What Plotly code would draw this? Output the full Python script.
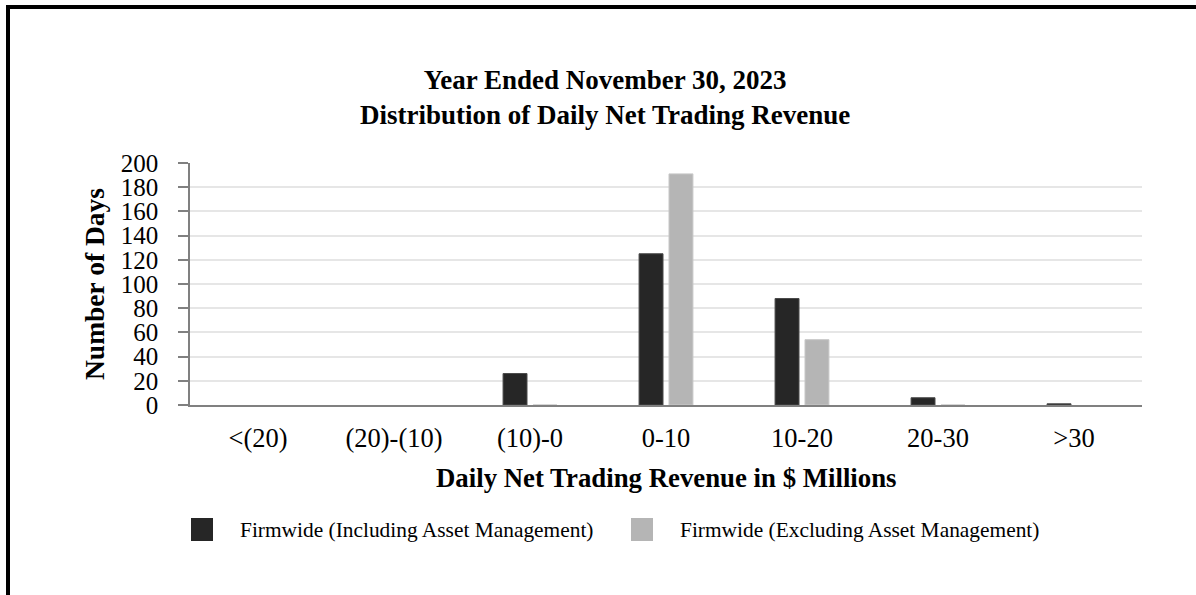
import plotly.graph_objects as go

categories = ["<(20)", "(20)-(10)", "(10)-0", "0-10", "10-20", "20-30", ">30"]
incl_am = [None, None, 26, 125, 88, 6, 1]
excl_am = [None, None, 0, 191, 54, 0, None]
series_names = ["Firmwide (Including Asset Management)", "Firmwide (Excluding Asset Management)"]
y_ticks = [0, 20, 40, 60, 80, 100, 120, 140, 160, 180, 200]

DARK = "#262626"
LIGHT = "#b5b5b5"
FONT = "Liberation Serif"

W, H = 1196, 595
L, R, T, B = 190, 54, 163, 190
pw, ph = W - L - R, H - T - B


def px(x):
    return (x - L) / pw


def py(y):
    return (H - B - y) / ph


fig = go.Figure()
fig.add_trace(go.Bar(x=categories, y=incl_am, name=series_names[0],
                     marker=dict(color=DARK, line=dict(color="#4a4a4a", width=1)),
                     showlegend=False))
fig.add_trace(go.Bar(x=categories, y=excl_am, name=series_names[1],
                     marker=dict(color=LIGHT, line=dict(color="#c8c8c8", width=1)),
                     showlegend=False))

shapes = [
    # outer frame
    dict(type="rect", xref="paper", yref="paper", x0=px(8), x1=px(1300), y0=py(700), y1=py(7),
         line=dict(color="black", width=4), fillcolor="rgba(0,0,0,0)", layer="above"),
    # legend swatches
    dict(type="rect", xref="paper", yref="paper", x0=px(191), x1=px(213), y0=py(541), y1=py(518),
         line=dict(width=0), fillcolor=DARK),
    dict(type="rect", xref="paper", yref="paper", x0=px(631), x1=px(653), y0=py(541), y1=py(518),
         line=dict(width=0), fillcolor=LIGHT),
]

annotations = [
    dict(text="<b>Year Ended November 30, 2023<br>Distribution of Daily Net Trading Revenue</b>",
         xref="paper", yref="paper", x=px(605), y=py(97), xanchor="center", yanchor="middle",
         showarrow=False, font=dict(family=FONT, size=27, color="black")),
    dict(text="<b>Number of Days</b>", xref="paper", yref="paper", x=px(94), y=py(284),
         textangle=-90, xanchor="center", yanchor="middle", showarrow=False,
         font=dict(family=FONT, size=27.5, color="black")),
    dict(text="<b>Daily Net Trading Revenue in $ Millions</b>", xref="paper", yref="paper",
         x=px(666), y=py(478), xanchor="center", yanchor="middle", showarrow=False,
         font=dict(family=FONT, size=26.8, color="black")),
    dict(text=series_names[0], xref="paper", yref="paper", x=px(238), y=py(530),
         xanchor="left", yanchor="middle", showarrow=False,
         font=dict(family=FONT, size=21.4, color="black")),
    dict(text=series_names[1], xref="paper", yref="paper", x=px(678), y=py(530),
         xanchor="left", yanchor="middle", showarrow=False,
         font=dict(family=FONT, size=21.4, color="black")),
]

fig.update_layout(
    width=W, height=H,
    margin=dict(l=L, r=R, t=T, b=B, pad=0),
    paper_bgcolor="white", plot_bgcolor="white",
    barmode="group", bargap=0.56, bargroupgap=0.2,
    font=dict(family=FONT, color="black"),
    shapes=shapes, annotations=annotations,
)
fig.update_xaxes(
    showgrid=False, showline=True, linecolor="#808080", linewidth=2,
    ticks="", tickfont=dict(family=FONT, size=26.5, color="black"),
    ticklabelstandoff=8, fixedrange=True,
)
fig.update_yaxes(
    range=[0, 200], tickvals=y_ticks, showgrid=True, gridcolor="#e6e6e6", gridwidth=1.5,
    showline=True, linecolor="#808080", linewidth=1.5, ticks="outside", ticklen=10,
    tickcolor="#808080", tickwidth=1.5, tickfont=dict(family=FONT, size=25, color="black"),
    ticklabelstandoff=15, zeroline=False, fixedrange=True,
)

fig.write_html("out.html", config={"displayModeBar": False},
               post_script="document.body.style.margin='0';document.body.style.overflow='hidden';")
